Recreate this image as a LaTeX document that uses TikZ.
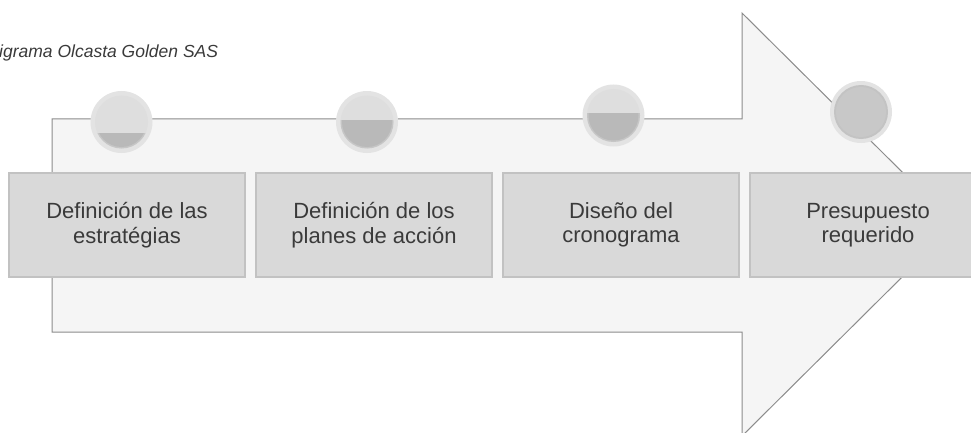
\documentclass[tikz,border=0pt]{standalone}
\usepackage{fontspec}
\setmainfont{Liberation Sans}
\definecolor{arrowfill}{HTML}{F5F5F5}
\definecolor{arrowline}{HTML}{8C8C8C}
\definecolor{boxfill}{HTML}{D9D9D9}
\definecolor{boxline}{HTML}{C2C2C2}
\definecolor{ringc}{HTML}{E3E3E3}
\definecolor{innerc}{HTML}{DEDEDE}
\definecolor{levelc}{HTML}{B9B9B9}
\definecolor{levelline}{HTML}{C6C6C6}
\definecolor{fullc}{HTML}{C8C8C8}
\definecolor{textc}{HTML}{3A3A3A}
\tikzset{
  stepbox/.style={draw=boxline, fill=boxfill, line width=1.2pt, minimum width=236pt, minimum height=104pt, inner sep=0pt, align=center, text=textc, font=\fontsize{22}{24.5}\selectfont},
  ringnode/.style={circle, fill=ringc, minimum size=62pt, inner sep=0pt},
}
\begin{document}
\begin{tikzpicture}[x=1pt,y=-1pt]
\useasboundingbox (0,0) rectangle (971,433);
\clip (0,0) rectangle (971,433);
% arrow
\draw[fill=arrowfill, draw=arrowline, line width=1pt, line join=miter]
  (52,119) -- (742,119) -- (742,13) -- (955,224.5) -- (742,436) -- (742,332) -- (52,332) -- cycle;
% title
\node[anchor=base west, inner sep=0pt, text=textc, font=\fontsize{17.5}{20}\selectfont\itshape] (title) at (-1,58) {igrama Olcasta Golden SAS};
% boxes
\node[stepbox] (b1) at (127,225) {Definición de las\\estratégias};
\node[stepbox] (b2) at (374,225) {Definición de los\\planes de acción};
\node[stepbox] (b3) at (621,225) {Diseño del\\cronograma};
\node[stepbox] (b4) at (868,225) {Presupuesto\\requerido};
% circles
\node[ringnode] (c1) at (121.5,122) {};
\node[ringnode] (c2) at (367,122) {};
\node[ringnode] (c3) at (613.5,115.5) {};
\node[ringnode] (c4) at (861,112) {};
\foreach \c/\off in {c1/11, c2/-1, c3/-1.5}{
  \fill[innerc] (\c.center) circle (26.5);
  \begin{scope}
    \clip ([shift={(-30,\off)}]\c.center) rectangle ([shift={(30,30)}]\c.center);
    \fill[levelline] (\c.center) circle (26.5);
    \fill[levelc] (\c.center) circle (25);
  \end{scope}
}
\fill[levelline!80!levelc] (c4.center) circle (27);
\fill[fullc] (c4.center) circle (25);
\end{tikzpicture}
\end{document}
